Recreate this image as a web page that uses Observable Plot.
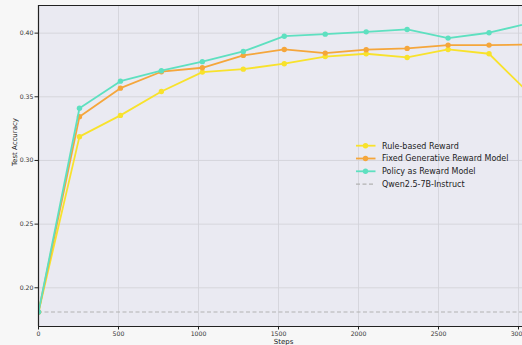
<!DOCTYPE html>
<html><head><meta charset="utf-8">
<script src="https://cdn.jsdelivr.net/npm/d3@7"></script>
<script src="https://cdn.jsdelivr.net/npm/@observablehq/plot@0.6"></script>
<style>
html,body{margin:0;padding:0;background:#f7f7f7;}
#wrap{position:relative;width:522px;height:345px;overflow:hidden;background:#f7f7f7;}
#legend{position:absolute;left:350px;top:138px;}
</style>
</head><body>
<div id="wrap"><div id="chart"></div><div id="legend"></div></div>
<script>
const steps = [0,256,512,768,1024,1280,1536,1792,2048,2304,2560,2816,3072];
const ruleBased = [0.181,0.3187,0.3354,0.3542,0.3694,0.3717,0.3760,0.3816,0.3838,0.3809,0.3872,0.3838,0.352];
const fixedGRM  = [0.181,0.3344,0.3568,0.3697,0.3728,0.3825,0.3872,0.3843,0.3870,0.3880,0.3906,0.3906,0.391];
const policyRM  = [0.181,0.3410,0.3623,0.3705,0.3776,0.3856,0.3976,0.3992,0.4010,0.4029,0.3961,0.4003,0.408];
const baseline = 0.181;
const seriesNames = ["Rule-based Reward","Fixed Generative Reward Model","Policy as Reward Model"];
const baselineName = "Qwen2.5-7B-Instruct";
const colors = ["#f8e22c","#f5a63b","#5ee0c0"];
const xTicks = [0,500,1000,1500,2000,2500,3000];
const yTicks = [0.20,0.25,0.30,0.35,0.40];

const seriesVals = [ruleBased, fixedGRM, policyRM];
const rows = [];
seriesVals.forEach((vals, k) => vals.forEach((v, i) => rows.push({series: seriesNames[k], step: steps[i], value: v})));

const lineMarks = [];
seriesNames.forEach((name, k) => {
  const d = rows.filter(r => r.series === name);
  lineMarks.push(Plot.line(d, {x: "step", y: "value", stroke: colors[k], strokeWidth: 1.8, clip: true}));
  lineMarks.push(Plot.dot(d, {x: "step", y: "value", fill: colors[k], r: 2.7, clip: true}));
});

const chart = Plot.plot({
  width: 522, height: 345,
  marginLeft: 38, marginRight: 0, marginTop: 5, marginBottom: 19,
  style: {background: "#f7f7f7", fontFamily: "DejaVu Sans", fontSize: "6.2px", color: "#333"},
  x: {domain: [0, 3025], label: null},
  y: {domain: [0.1696, 0.4217], label: null},
  marks: [
    Plot.frame({fill: "#eaeaf2", stroke: null}),
    Plot.gridX(xTicks, {stroke: "#d4d4da", strokeOpacity: 1, strokeWidth: 0.9}),
    Plot.gridY(yTicks, {stroke: "#d4d4da", strokeOpacity: 1, strokeWidth: 0.9}),
    Plot.ruleY([baseline], {stroke: "#b2b2b2", strokeWidth: 1.1, strokeDasharray: "4,2.5"}),
    ...lineMarks,
    Plot.axisX(xTicks, {tickSize: 3.5, tickPadding: 1.5, tickFormat: "d", label: null, stroke: "#222"}),
    Plot.axisY(yTicks, {tickSize: 3.5, tickPadding: 1.5, tickFormat: ".2f", label: null, stroke: "#222"}),
    Plot.ruleX([0], {stroke: "#222", strokeWidth: 1.2}),
    Plot.ruleY([0.1696], {stroke: "#222", strokeWidth: 1.2}),
    Plot.ruleY([0.4217], {stroke: "#222", strokeWidth: 1.2}),
    Plot.text(["Test Accuracy"], {frameAnchor: "left", dx: -24, rotate: -90, fontSize: 7, fill: "#222"}),
    Plot.text(["Steps"], {frameAnchor: "bottom", dx: 3, dy: 17, fontSize: 7, fill: "#222"})
  ]
});
document.getElementById("chart").appendChild(chart);

// legend
const lg = d3.select("#legend").append("svg").attr("width", 172).attr("height", 56)
  .style("font-family", "DejaVu Sans").style("font-size", "8px");
const items = seriesNames.map((n, k) => ({name: n, color: colors[k], dash: false})).concat([{name: baselineName, color: "#b2b2b2", dash: true}]);
items.forEach((it, i) => {
  const y = 7.7 + i * 12.8;
  lg.append("line").attr("x1", 6).attr("x2", 25.5).attr("y1", y).attr("y2", y)
    .attr("stroke", it.color).attr("stroke-width", it.dash ? 1.1 : 1.8)
    .attr("stroke-dasharray", it.dash ? "4,2.5" : null);
  if (!it.dash) lg.append("circle").attr("cx", 15.5).attr("cy", y).attr("r", 2.7).attr("fill", it.color);
  lg.append("text").attr("x", 32).attr("y", y).attr("dy", "0.35em").attr("fill", "#222").text(it.name);
});
</script>
</body></html>
